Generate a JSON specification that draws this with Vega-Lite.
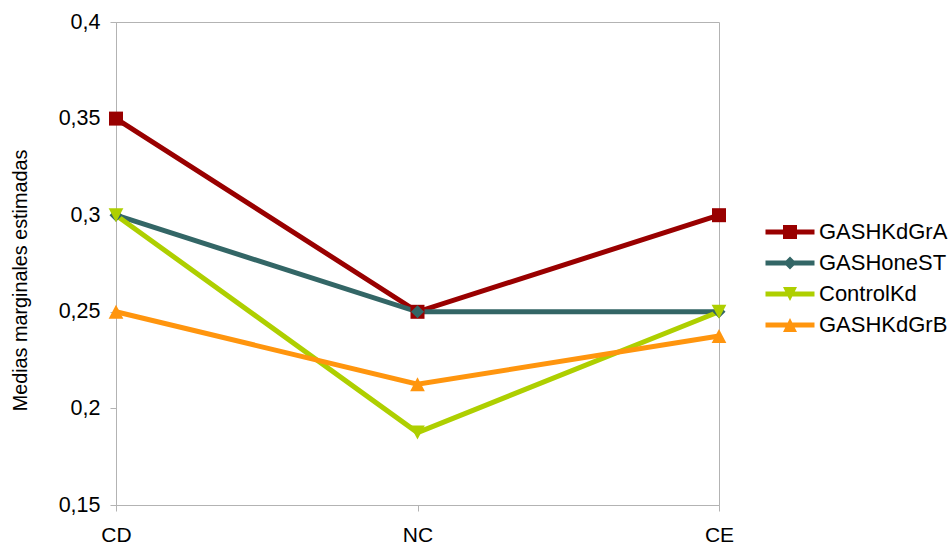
{
  "$schema": "https://vega.github.io/schema/vega-lite/v6.json",
  "width": 603,
  "height": 483,
  "autosize": {"type": "none"},
  "padding": {"left": 116, "top": 22, "right": 229, "bottom": 37},
  "background": "white",
  "config": {
    "font": "Liberation Sans",
    "view": {"stroke": "#b3b3b3", "strokeWidth": 1},
    "axis": {"domainColor": "#b3b3b3", "tickColor": "#b3b3b3", "labelColor": "#000000", "titleColor": "#000000", "grid": false, "labelFont": "Liberation Sans", "titleFont": "Liberation Sans"},
    "legend": {"labelFont": "Liberation Sans"}
  },
  "data": {
    "values": [
      {"series": "GASHKdGrA", "cat": "CD", "value": 0.35},
      {"series": "GASHKdGrA", "cat": "NC", "value": 0.25},
      {"series": "GASHKdGrA", "cat": "CE", "value": 0.30},
      {"series": "GASHoneST", "cat": "CD", "value": 0.30},
      {"series": "GASHoneST", "cat": "NC", "value": 0.25},
      {"series": "GASHoneST", "cat": "CE", "value": 0.25},
      {"series": "ControlKd", "cat": "CD", "value": 0.30},
      {"series": "ControlKd", "cat": "NC", "value": 0.1875},
      {"series": "ControlKd", "cat": "CE", "value": 0.25},
      {"series": "GASHKdGrB", "cat": "CD", "value": 0.25},
      {"series": "GASHKdGrB", "cat": "NC", "value": 0.2125},
      {"series": "GASHKdGrB", "cat": "CE", "value": 0.2375}
    ]
  },
  "encoding": {
    "x": {
      "field": "cat", "type": "ordinal", "sort": ["CD", "NC", "CE"],
      "scale": {"type": "point", "padding": 0},
      "axis": {"title": null, "labelAngle": 0, "labelFontSize": 21, "labelPadding": 13, "tickSize": 6}
    },
    "y": {
      "field": "value", "type": "quantitative",
      "scale": {"domain": [0.15, 0.4], "nice": false, "zero": false},
      "axis": {
        "title": "Medias marginales estimadas",
        "values": [0.15, 0.2, 0.25, 0.3, 0.35, 0.4],
        "labelExpr": "replace(format(datum.value, '.2~f'), '.', ',')",
        "tickSize": 6, "labelPadding": 10, "labelFontSize": 21.5,
        "titleFontSize": 19.8, "titleFontWeight": "normal",
        "titleX": -96, "titleY": 258, "titleAngle": -90,
        "titleAlign": "center", "titleBaseline": "middle"
      }
    }
  },
  "layer": [
    {
      "mark": {"type": "line", "strokeWidth": 5},
      "encoding": {
        "color": {"field": "series", "type": "nominal",
          "scale": {"domain": ["GASHKdGrA", "GASHoneST", "ControlKd", "GASHKdGrB"], "range": ["#990000", "#336666", "#aecf00", "#ff950e"]},
          "legend": null}
      }
    },
    {
      "mark": {"type": "point", "filled": true, "opacity": 1, "size": 196},
      "encoding": {
        "color": {"field": "series", "type": "nominal",
          "scale": {"domain": ["GASHKdGrA", "GASHoneST", "ControlKd", "GASHKdGrB"], "range": ["#990000", "#336666", "#aecf00", "#ff950e"]},
          "legend": null},
        "shape": {"field": "series", "type": "nominal",
          "scale": {"domain": ["GASHKdGrA", "GASHoneST", "ControlKd", "GASHKdGrB"],
            "range": ["M-1,-1H1V1H-1Z", "M-0.93,0L0,-0.93L0.93,0L0,0.93Z", "M-1.05,-1H1.05L0,1Z", "M0,-1L1.05,1H-1.05Z"]},
          "legend": null}
      }
    },
    {
      "transform": [{"filter": "false"}],
      "mark": {"type": "point", "filled": true, "opacity": 1},
      "encoding": {
        "color": {"field": "series", "type": "nominal",
          "scale": {"domain": ["GASHKdGrA", "GASHoneST", "ControlKd", "GASHKdGrB"], "range": ["#990000", "#336666", "#aecf00", "#ff950e"]},
          "legend": {"orient": "none", "legendX": 663, "legendY": 199, "title": null, "labelFontSize": 22, "labelOffset": 18, "symbolSize": 196, "rowPadding": 9, "labelColor": "#000000", "symbolStrokeWidth": 0, "symbolOpacity": 1}},
        "shape": {"field": "series", "type": "nominal",
          "scale": {"domain": ["GASHKdGrA", "GASHoneST", "ControlKd", "GASHKdGrB"],
            "range": [
              "M-3.5,-0.37H3.5V0.37H-3.5Z M-1,-1H1V1H-1Z",
              "M-3.5,-0.37H3.5V0.37H-3.5Z M-0.93,0L0,-0.93L0.93,0L0,0.93Z",
              "M-3.5,-0.37H3.5V0.37H-3.5Z M-1,-1H1L0,1Z",
              "M-3.5,-0.37H3.5V0.37H-3.5Z M0,-1L1,1H-1Z"
            ]},
          "legend": {"orient": "none", "legendX": 663, "legendY": 199, "title": null, "labelFontSize": 22, "labelOffset": 18, "symbolSize": 196, "rowPadding": 9, "labelColor": "#000000", "symbolStrokeWidth": 0, "symbolOpacity": 1}}
      }
    }
  ],
  "resolve": {"scale": {"color": "independent", "shape": "independent"}}
}
